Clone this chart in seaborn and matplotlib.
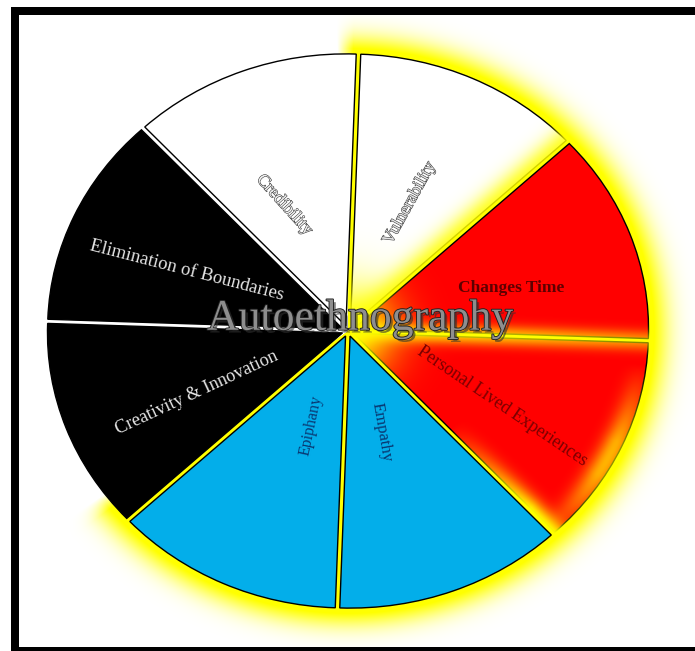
import numpy as np
import matplotlib
matplotlib.use("Agg")
import matplotlib.pyplot as plt
import matplotlib.patheffects as pe
from matplotlib.patches import Rectangle
import seaborn as sns

# ---- data ----
categories = ["Changes Time", "Vulnerability", "Credibility", "Elimination of Boundaries",
              "Creativity & Innovation", "Epiphany", "Empathy", "Personal Lived Experiences"]
shares = [1, 1, 1, 1, 1, 1, 1, 1]
slice_colors = ["#ff0000", "#ffffff", "#ffffff", "#000000",
                "#000000", "#03aeea", "#03aeea", "#ff0000"]
center_title = "Autoethnography"

# ---- layout / style ----
label_colors = ["#5e0000", "#e4e4e4", "#f2f2f2", "#e6e6e6",
                "#e6e6e6", "#0a3670", "#0a3670", "#7a0000"]
label_r = [0.575, 0.515, 0.51, 0.59, 0.56, 0.37, 0.39, 0.59]
label_shift = [-4.5, 0.5, 4.5, 2.5, 3.5, 4.5, -3.5, -3.5]
label_rot = [0, 61, -48, -14.5, 25, 78, -80, -34]
label_size = [12.5, 12.5, 12.5, 13.5, 13.2, 11.5, 12, 13]
outlined = [False, True, True, False, False, False, False, False]

W, H = 695, 651
SX, SY = 295, 272          # pixels per unit of pie radius
CX, CY = 348, 331          # pie centre (pixels from top-left)
START = -2                 # the wheel is turned slightly clockwise

sns.set_theme(style="white")
plt.rcParams["font.family"] = ["Liberation Serif", "DejaVu Serif"]

fig = plt.figure(figsize=(W / 100, H / 100), dpi=100)
ax = fig.add_axes([0, 0, 1, 1])

wedges, _ = ax.pie(shares, colors=slice_colors, startangle=START, counterclock=True,
                   explode=[0.02] * len(shares), radius=1,
                   wedgeprops=dict(edgecolor="black", linewidth=1, zorder=3))

xlim = (-CX / SX, (W - CX) / SX)
ylim = (-(H - CY) / SY, CY / SY)
ax.set_aspect("auto")
ax.set_xlim(*xlim)
ax.set_ylim(*ylim)
ax.axis("off")

# boundary angles taken from the pie itself
b0 = wedges[0].theta1          # Personal | Changes Time
b45 = wedges[0].theta2         # Changes Time | Vulnerability
b90 = wedges[1].theta2         # Vulnerability | Credibility
b225 = wedges[4].theta2 - 360  # Creativity | Epiphany
b315 = wedges[6].theta2 - 360  # Empathy | Personal

# ---- glow field ----
gx = np.linspace(xlim[0], xlim[1], W)
gy = np.linspace(ylim[0], ylim[1], H)
X, Y = np.meshgrid(gx, gy)
R = np.hypot(X, Y)
T = np.degrees(np.arctan2(Y, X))
PX, PY = X * SX, Y * SY
RHO = np.hypot(PX, PY)


def ray(phi):
    dx, dy = SX * np.cos(np.radians(phi)), SY * np.sin(np.radians(phi))
    n = np.hypot(dx, dy)
    dx, dy = dx / n, dy / n
    along = PX * dx + PY * dy
    perp = np.where(along > 0, np.abs(PX * dy - PY * dx), RHO)
    return along, perp


def window(t, lo, hi, soft):
    return np.clip((t - lo) / soft, 0, 1) * np.clip((hi - t) / soft, 0, 1)


yellow = np.zeros((H, W, 4))
yellow[..., 0] = 1.0
yellow[..., 1] = 1.0

# outer glow behind the pie (also fills the gaps)
d_out = np.maximum((R - 1.0) * 283, 0)
a_back = np.clip(1.25 * np.exp(-(d_out / 24) ** 2), 0, 1) * window(T, b225 - 7, b90 + 4, 3)
back = yellow.copy()
back[..., 3] = a_back
ax.imshow(back, extent=(*xlim, *ylim), origin="lower", aspect="auto",
          interpolation="bilinear", zorder=1)

# glow drawn over the red / vulnerability slices
a1 = np.exp(-(RHO / 48) ** 2)
al0, p0 = ray(b0)
a2 = np.exp(-(p0 / 10) ** 2) * (0.92 - 0.35 * np.clip(al0 / 290, 0, 1))
al45, p45 = ray(b45)
a3 = np.exp(-(p45 / 16) ** 2) * (T > b45) * 0.85
a4 = np.exp(-(((1 - R) * 283) / 13) ** 2) * window(T, b315 - 2, b0 - 5, 25)
al315, p315 = ray(b315)
a5 = np.exp(-(p315 / 13) ** 2) * np.clip((al315 / 283 - 0.5) / 0.4, 0, 1) * (T > b315)
a_front = 1 - (1 - a1) * (1 - a2) * (1 - a3) * (1 - a4) * (1 - a5)
a_front *= (T >= b315) & (T <= b90 + 0.5) & (R < 1.03)
front = yellow.copy()
front[..., 3] = np.clip(a_front, 0, 1)
ax.imshow(front, extent=(*xlim, *ylim), origin="lower", aspect="auto",
          interpolation="bilinear", zorder=4)

# ---- slice labels ----
for w, name, col, r, sh, rot, fs, ol in zip(wedges, categories, label_colors, label_r,
                                            label_shift, label_rot, label_size, outlined):
    mid = np.radians((w.theta1 + w.theta2) / 2 + sh)
    effects = [pe.withStroke(linewidth=0.8, foreground="#3a3a3a")] if ol else None
    ax.text(r * np.cos(mid), r * np.sin(mid), name, color=col, fontsize=fs,
            rotation=rot, ha="center", va="center", rotation_mode="anchor",
            fontweight="bold" if name == "Changes Time" else "normal",
            path_effects=effects, zorder=6)

ax.text(0.04, 0.045, center_title, fontsize=31.5, color="#8e8e8e", ha="center",
        va="center", zorder=7,
        path_effects=[pe.SimplePatchShadow(offset=(2, -2), shadow_rgbFace="#303030", alpha=0.6),
                      pe.Stroke(linewidth=1.3, foreground="#202020"), pe.Normal()])

# ---- frame ----
fig.add_artist(Rectangle((15 / W, 0), 1.2, (H - 11) / H, transform=fig.transFigure,
                         fill=False, edgecolor="black", linewidth=8 * 0.72))

fig.savefig("out.png", dpi=100)
